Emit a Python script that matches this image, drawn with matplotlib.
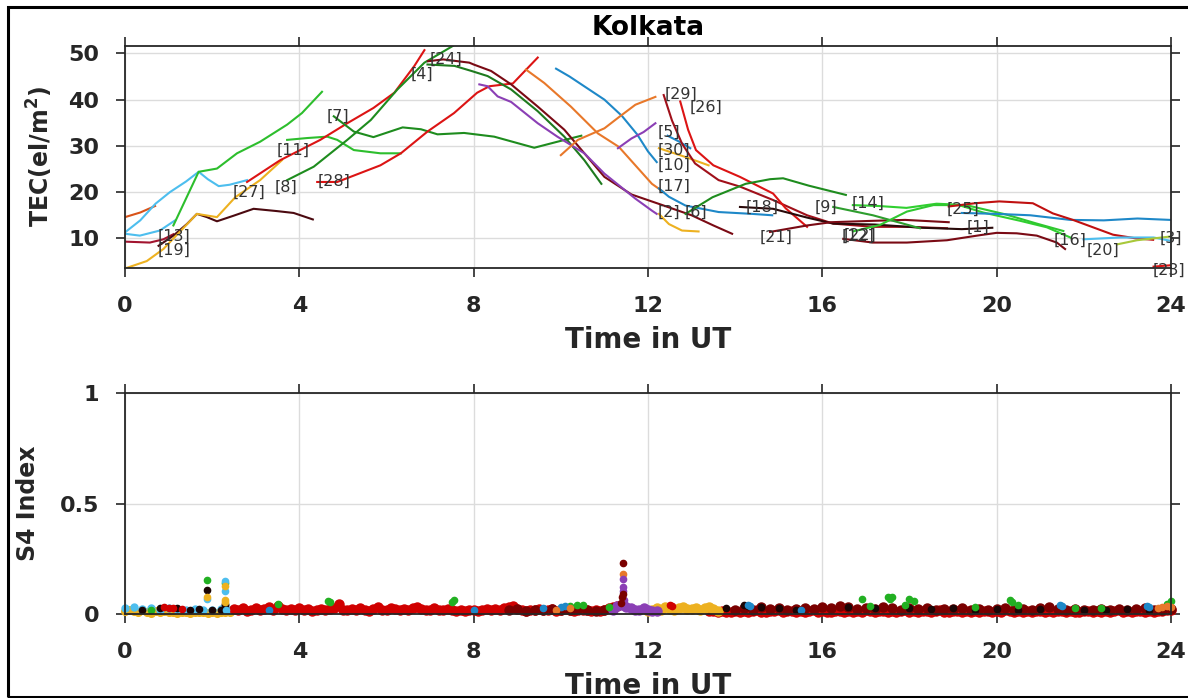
import numpy as np
import matplotlib
matplotlib.use('Agg')
import matplotlib.pyplot as plt
from matplotlib.patches import Rectangle

# ---------------- TEC tracks (time UT [h], TEC [el/m^2]) ----------------
t_a = [0.0, 0.35, 0.69];                         v_a = [14.6, 15.6, 17.0]
t_b = [0.0, 0.35, 0.7, 1.03, 1.4, 1.69, 1.9, 2.15, 2.4, 2.8]
v_b = [11.3, 13.9, 17.5, 20.0, 22.3, 24.4, 22.8, 21.3, 21.6, 22.6]
t_c = [0.0, 0.34, 0.8, 1.15];                    v_c = [11.0, 10.6, 11.7, 13.9]
t_d = [0.0, 0.57, 0.88, 1.11];                   v_d = [9.3, 9.1, 9.8, 10.9]
t_e = [0.77, 1.11, 1.42, 1.65, 1.88, 2.11, 2.49, 2.95, 3.49, 3.87, 4.31]
v_e = [8.4, 10.6, 13.1, 15.3, 14.6, 13.7, 14.9, 16.4, 15.9, 15.5, 14.1]
t_f = [0.0, 0.5, 0.88, 1.65, 2.11, 2.53, 3.1, 3.6]
v_f = [3.5, 5.1, 7.7, 15.3, 14.6, 18.9, 22.6, 26.9]
t_g = [1.11, 1.69, 2.11, 2.57, 3.1, 3.72, 4.06, 4.52]
v_g = [12.8, 24.4, 25.1, 28.4, 30.9, 34.6, 37.1, 41.7]
t_h = [3.72, 4.18, 4.64, 4.87, 5.25, 5.86, 6.33]
v_h = [31.3, 31.7, 32.0, 31.3, 29.1, 28.4, 28.4]
t_i = [2.8, 3.56, 4.48, 5.1, 5.7, 6.18, 6.64, 6.87]
v_i = [22.2, 26.9, 31.3, 34.9, 38.2, 41.5, 47.3, 50.7]
t_j = [3.72, 4.33, 5.1, 5.64, 6.25, 6.87, 7.52]
v_j = [22.6, 25.5, 31.3, 35.6, 42.2, 48.0, 51.6]
t_k = [4.79, 5.25, 5.7, 6.37, 6.79, 7.17, 7.78, 8.47, 9.39, 9.92, 10.47]
v_k = [36.4, 33.1, 31.9, 34.0, 33.6, 32.5, 32.8, 32.0, 29.6, 30.9, 32.2]
t_l = [4.41, 4.87, 5.86, 6.33, 6.94, 7.55, 8.08, 8.36, 8.9, 9.47]
v_l = [22.2, 22.2, 25.8, 28.4, 33.1, 37.1, 41.5, 42.9, 43.5, 49.1]
t_m = [6.95, 7.3, 7.9, 8.0, 8.4, 8.86, 9.47, 10.08, 10.54, 11.0, 11.62, 12.3, 13.0, 13.5, 13.93]
v_m = [48.3, 48.7, 48.0, 47.6, 46.2, 43.3, 38.5, 33.5, 28.4, 23.3, 19.5, 17.3, 15.0, 12.8, 11.0]
t_n = [6.94, 7.56, 7.95, 8.32, 8.86, 9.47, 10.08, 10.54, 10.93]
v_n = [47.6, 47.3, 46.2, 45.1, 42.2, 37.5, 32.0, 26.9, 21.8]
t_o = [8.13, 8.32, 8.55, 8.86, 9.47, 9.92, 10.54, 11.0, 11.33, 11.71, 12.09, 12.2]
v_o = [43.3, 42.9, 40.7, 39.5, 34.9, 32.0, 28.4, 24.0, 21.5, 18.6, 16.0, 15.3]
t_p = [9.2, 9.62, 10.23, 10.85, 11.33, 11.71, 12.09, 12.36]
v_p = [46.5, 43.6, 38.5, 32.7, 29.8, 25.8, 21.8, 20.0]
t_q = [9.89, 10.2, 10.6, 11.0, 11.4, 11.75, 12.0, 12.2]
v_q = [46.7, 45.0, 42.5, 40.0, 36.5, 32.5, 28.8, 26.5]
t_r = [10.0, 10.39, 11.0, 11.33, 11.71, 12.17]
v_r = [28.0, 31.3, 33.8, 36.2, 38.9, 40.6]
t_s = [11.31, 11.62, 11.9, 12.17];               v_s = [29.5, 31.6, 33.0, 34.9]
t_u = [12.45, 12.7, 12.97];                      v_u = [32.2, 31.0, 29.5]
t_w = [12.25, 12.86, 13.39];                     v_w = [29.5, 27.6, 25.8]
t_x = [12.25, 12.48, 12.86, 13.62, 14.39, 14.85]
v_x = [20.8, 19.0, 17.1, 15.7, 15.3, 15.0]
t_y = [12.25, 12.48, 12.78, 13.16];              v_y = [15.3, 13.1, 11.7, 11.5]
t_p29 = [12.36, 12.55, 12.78, 13.08, 13.62, 14.11, 14.87, 15.65, 16.25, 17.16, 17.94, 18.86]
v_p29 = [41.0, 35.5, 30.5, 26.2, 22.6, 21.2, 18.3, 15.0, 13.2, 12.5, 12.5, 12.2]
t_p26 = [12.74, 12.92, 13.1, 13.5, 14.11, 14.87, 15.16, 15.65]
v_p26 = [39.6, 33.5, 29.1, 25.8, 23.3, 19.7, 16.5, 12.5]
t_p6 = [12.86, 13.48, 14.24, 14.8, 15.1, 15.69, 16.54]
v_p6 = [15.3, 18.9, 21.8, 22.8, 23.0, 21.4, 19.4]
t_p18 = [14.11, 14.87, 15.65, 16.25, 17.2, 18.3, 19.2, 19.9]
v_p18 = [16.8, 16.4, 14.5, 13.2, 13.0, 12.3, 12.0, 12.3]
t_p21 = [14.8, 15.65, 16.2, 17.16, 17.9, 18.9]
v_p21 = [11.4, 12.8, 13.5, 13.8, 14.0, 13.5]
t_p12 = [16.48, 17.16, 17.94, 18.86, 19.62, 20.0, 20.46, 20.92, 21.38, 21.57]
v_p12 = [9.9, 9.1, 9.1, 9.6, 10.7, 11.2, 11.1, 10.6, 9.1, 7.7]
t_p9 = [16.25, 17.16, 18.24];                    v_p9 = [16.8, 15.0, 12.2]
t_p14 = [16.7, 17.3, 17.93, 18.62, 19.1, 19.69, 20.54, 21.15, 21.69]
v_p14 = [17.2, 17.0, 16.6, 17.5, 17.3, 15.6, 13.8, 12.4, 10.2]
t_p1 = [16.7, 17.32, 17.94, 18.55, 19.3, 20.2, 20.92, 21.53]
v_p1 = [11.5, 12.9, 15.8, 17.2, 17.2, 15.2, 13.2, 11.6]
t_p25 = [19.2, 20.0, 20.77, 21.69, 22.46, 23.23, 23.98]
v_p25 = [15.5, 15.3, 15.0, 14.0, 13.9, 14.3, 14.0]
t_p24b = [18.9, 19.5, 20.06, 20.83, 21.29, 21.75, 22.67, 23.2, 23.59]
v_p24b = [16.9, 17.6, 18.0, 17.6, 15.4, 14.0, 10.8, 10.0, 9.7]
t_p16 = [21.99, 22.84, 23.6, 23.98];             v_p16 = [9.8, 10.2, 10.2, 9.5]
t_p20 = [22.76, 23.22, 23.98];                   v_p20 = [8.7, 9.6, 10.4]
t_p23 = [23.6, 24.0];                            v_p23 = [3.9, 4.2]

# PRN label texts and their positions (time, TEC)
lab_txt = ['[13]', '[19]', '[27]', '[8]', '[11]', '[7]', '[28]', '[4]', '[24]',
           '[29]', '[26]', '[5]', '[30]', '[10]', '[17]', '[2]', '[6]', '[18]',
           '[21]', '[9]', '[14]', '[12]', '[22]', '[25]', '[1]', '[16]', '[20]',
           '[3]', '[23]']
lab_t = [0.76, 0.76, 2.48, 3.44, 3.48, 4.63, 4.43, 6.55, 7.0,
         12.39, 12.95, 12.23, 12.23, 12.23, 12.23, 12.23, 12.85, 14.23,
         14.57, 15.83, 16.68, 16.45, 16.5, 18.85, 19.3, 21.3, 22.07,
         23.75, 23.57]
lab_v = [10.5, 7.5, 20.0, 21.1, 29.1, 36.3, 22.4, 45.4, 48.7,
         41.2, 38.3, 33.0, 29.1, 25.9, 21.3, 15.7, 15.7, 16.8,
         10.3, 16.8, 17.6, 10.5, 10.7, 16.4, 12.4, 9.6, 7.5,
         10.0, 3.2]

# ---------------- S4 index ----------------
yel1_t0, yel1_dt = 0.0, 0.1
s4_yel1 = [0.012, 0.02, 0.015, 0.008, 0.018, 0.01, 0.006, 0.012, 0.009, 0.014,
           0.007, 0.01, 0.005, 0.011, 0.008, 0.006, 0.01, 0.007, 0.009, 0.005,
           0.008, 0.006, 0.01, 0.007, 0.009]
cya1_t0, cya1_dt = 0.0, 0.2
s4_cya1 = [0.028, 0.03, 0.022, 0.025, 0.02, 0.026, 0.024, 0.018, 0.022, 0.02,
           0.019, 0.021, 0.02]
red1_t0, red1_dt = 2.5, 0.1
s4_red1 = [0.022, 0.018, 0.025, 0.015, 0.02, 0.028, 0.017, 0.022, 0.03, 0.019,
           0.035, 0.024, 0.018, 0.021, 0.016, 0.026, 0.02, 0.023, 0.015, 0.019,
           0.024, 0.017, 0.021, 0.028, 0.045, 0.019, 0.016, 0.022, 0.018, 0.025,
           0.02, 0.015, 0.023, 0.03, 0.019, 0.017, 0.026, 0.021, 0.018, 0.024,
           0.019, 0.028, 0.033, 0.022, 0.017, 0.02, 0.025, 0.018, 0.016, 0.021,
           0.019, 0.014, 0.018, 0.012, 0.016, 0.02, 0.013, 0.017, 0.022, 0.018,
           0.024, 0.02, 0.027, 0.032, 0.036, 0.021, 0.018, 0.015, 0.02, 0.017,
           0.023, 0.019, 0.016, 0.021, 0.014, 0.018, 0.022, 0.017, 0.013, 0.019,
           0.016, 0.02, 0.015, 0.018, 0.013, 0.017, 0.025, 0.03, 0.035]
red2_t0, red2_dt = 13.4, 0.1
s4_red2 = [0.012, 0.015, 0.01, 0.013, 0.008, 0.011, 0.014, 0.009, 0.012, 0.01,
           0.013, 0.016, 0.011, 0.009, 0.014, 0.012, 0.018, 0.01, 0.013, 0.015,
           0.011, 0.014, 0.009, 0.012, 0.016, 0.01, 0.013, 0.008, 0.011, 0.014,
           0.012, 0.009, 0.015, 0.011, 0.013, 0.01, 0.016, 0.012, 0.009, 0.013,
           0.015, 0.011, 0.014, 0.01, 0.012, 0.017, 0.011, 0.013, 0.009, 0.012,
           0.014, 0.01, 0.013, 0.016, 0.011, 0.009, 0.013, 0.015, 0.01, 0.012,
           0.011, 0.014, 0.009, 0.012, 0.015, 0.01, 0.013, 0.011, 0.016, 0.012,
           0.01, 0.013, 0.011, 0.014, 0.009, 0.012, 0.015, 0.011, 0.013, 0.01,
           0.012, 0.015, 0.01, 0.013, 0.011, 0.009, 0.014, 0.012, 0.01, 0.013,
           0.011, 0.014, 0.009, 0.012, 0.016, 0.01, 0.013, 0.011, 0.015, 0.012,
           0.01, 0.013, 0.011, 0.014, 0.012, 0.016, 0.018]
mar1_t0, mar1_dt = 8.8, 0.2
s4_mar1 = [0.018, 0.022, 0.015, 0.02, 0.017, 0.024, 0.019, 0.016, 0.021, 0.018,
           0.015, 0.02, 0.025]
mar2_t0, mar2_dt = 14.0, 0.2
s4_mar2 = [0.02, 0.025, 0.018, 0.03, 0.022, 0.026, 0.019, 0.024, 0.028, 0.021,
           0.032, 0.027, 0.035, 0.03, 0.024, 0.028, 0.022, 0.03, 0.025, 0.02,
           0.026, 0.022, 0.028, 0.019, 0.024, 0.021, 0.027, 0.02, 0.023, 0.018,
           0.022, 0.025, 0.019, 0.024, 0.02, 0.028, 0.032, 0.022, 0.019, 0.024,
           0.02, 0.017, 0.022, 0.019, 0.024, 0.018, 0.021, 0.026, 0.02, 0.018,
           0.022]
yel2_t0, yel2_dt = 12.0, 0.1
s4_yel2 = [0.012, 0.018, 0.025, 0.02, 0.03, 0.022, 0.018, 0.026, 0.03, 0.021,
           0.024, 0.028, 0.02, 0.025, 0.03, 0.022, 0.015]
pur_t0, pur_dt = 11.2, 0.1
s4_pur = [0.02, 0.035, 0.04, 0.03, 0.025, 0.02, 0.018, 0.025, 0.02, 0.015, 0.012]

blk_t = [0.4, 0.8, 1.2, 1.5, 1.7, 1.87, 2.0, 2.2, 2.3, 2.3, 13.8, 14.2, 14.3, 14.6,
         15.0, 15.4, 16.6, 17.2, 18.0, 18.5, 19.0, 19.5, 20.0, 20.5, 21.0, 22.0,
         22.5, 23.0, 23.5]
blk_s4 = [0.02, 0.025, 0.028, 0.02, 0.022, 0.109, 0.018, 0.02, 0.045, 0.04, 0.025,
          0.04, 0.035, 0.03, 0.028, 0.02, 0.03, 0.025, 0.028, 0.022, 0.026, 0.02,
          0.024, 0.018, 0.022, 0.02, 0.018, 0.021, 0.019]
grn_t = [0.6, 1.87, 2.3, 3.5, 4.65, 4.7, 7.5, 7.55, 10.2, 10.36, 10.5, 11.1, 16.9,
         17.1, 17.5, 17.55, 17.6, 17.9, 18.0, 18.1, 19.5, 20.3, 20.35, 20.5, 21.8,
         22.4, 23.9, 24.0]
grn_s4 = [0.02, 0.152, 0.142, 0.045, 0.06, 0.055, 0.055, 0.062, 0.035, 0.04, 0.042,
          0.03, 0.068, 0.035, 0.078, 0.07, 0.075, 0.04, 0.07, 0.06, 0.03, 0.065,
          0.055, 0.04, 0.028, 0.025, 0.045, 0.06]
cya_t = [1.87, 2.3, 2.3, 2.32]
cya_s4 = [0.068, 0.15, 0.104, 0.02]
yel_t = [1.87, 2.3, 2.3, 2.3]
yel_s4 = [0.078, 0.128, 0.062, 0.055]
blu_t = [3.3, 8.0, 9.6, 10.0, 10.1, 14.3, 14.35, 15.5, 21.45, 21.5, 23.45, 23.5]
blu_s4 = [0.02, 0.02, 0.025, 0.03, 0.035, 0.04, 0.035, 0.02, 0.04, 0.035, 0.035, 0.03]
org_t = [9.9, 10.2, 11.42, 23.7, 23.8, 23.9, 24.0]
org_s4 = [0.02, 0.025, 0.18, 0.025, 0.03, 0.035, 0.03]
pur_sp_t = [11.42, 11.42, 11.42, 11.44, 11.45]
pur_sp_s4 = [0.16, 0.124, 0.106, 0.064, 0.05]
mar_sp_t = [11.42, 11.42, 11.4, 11.38]
mar_sp_s4 = [0.23, 0.09, 0.075, 0.05]
red_sp_t = [0.9, 1.0, 1.1, 1.3, 12.5, 12.55]
red_sp_s4 = [0.03, 0.028, 0.025, 0.022, 0.04, 0.035]

xticks = [0, 4, 8, 12, 16, 20, 24]

# ---------------- colours ----------------
C_BLUE = '#1E88C8'; C_ORANGE = '#E8782A'; C_YEL = '#EDB120'; C_PUR = '#8B3FB5'
C_LBLUE = '#4DBEEE'; C_CRIM = '#A2142F'; C_RED = '#DC1414'; C_DRED = '#A0101A'
C_MAR = '#7A0A14'; C_BRN = '#4B0A10'; C_BGRN = '#2DBE2D'; C_DGRN = '#1E8C1E'
C_BLK = '#2A0A0A'; C_YG = '#A8C83A'; C_OR2 = '#D95319'

tracks = [
    (t_a, v_a, C_OR2), (t_b, v_b, C_LBLUE), (t_c, v_c, C_LBLUE), (t_d, v_d, C_CRIM),
    (t_e, v_e, C_BRN), (t_f, v_f, C_YEL), (t_g, v_g, C_BGRN), (t_h, v_h, C_BGRN),
    (t_i, v_i, C_RED), (t_j, v_j, C_DGRN), (t_k, v_k, C_DGRN), (t_l, v_l, C_RED),
    (t_m, v_m, C_MAR), (t_n, v_n, '#1E7A1E'), (t_o, v_o, C_PUR), (t_p, v_p, C_ORANGE),
    (t_q, v_q, C_BLUE), (t_r, v_r, C_ORANGE), (t_s, v_s, C_PUR), (t_u, v_u, C_BLUE),
    (t_w, v_w, C_YEL), (t_x, v_x, C_BLUE), (t_y, v_y, C_YEL), (t_p29, v_p29, C_DRED),
    (t_p26, v_p26, C_RED), (t_p6, v_p6, C_DGRN), (t_p18, v_p18, C_BLK),
    (t_p21, v_p21, C_MAR), (t_p12, v_p12, C_MAR), (t_p9, v_p9, '#2E9E2E'),
    (t_p14, v_p14, '#30D030'), (t_p1, v_p1, '#30C830'), (t_p25, v_p25, C_BLUE),
    (t_p24b, v_p24b, '#C01010'), (t_p16, v_p16, C_LBLUE), (t_p20, v_p20, C_YG),
    (t_p23, v_p23, C_RED),
]

plt.rcParams['font.family'] = ['DejaVu Sans']
plt.rcParams['mathtext.fontset'] = 'dejavusans'

W, H = 1188, 698
fig = plt.figure(figsize=(W / 100, H / 100), dpi=100)
ax1 = fig.add_axes([125 / W, 1 - 268 / H, 1046 / W, 222 / H])
ax2 = fig.add_axes([125 / W, 1 - 614 / H, 1046 / W, 221 / H])

TXT = '#262626'


def style(ax):
    ax.set_xlim(0, 24)
    ax.set_xticks(xticks)
    ax.grid(True, color='#dcdcdc', lw=1.0)
    ax.set_axisbelow(True)
    ax.tick_params(direction='out', length=6.5, width=1.2, top=True, right=True,
                   labelsize=16, colors=TXT)
    ax.tick_params(axis='x', pad=14)
    ax.tick_params(axis='y', pad=12)
    for lab in ax.get_xticklabels() + ax.get_yticklabels():
        lab.set_fontweight('bold')
    for s in ax.spines.values():
        s.set_linewidth(1.3)
        s.set_color(TXT)
    ax.set_xlabel('Time in UT', fontsize=20, fontweight='bold', color=TXT, labelpad=7)


# ---- top panel ----
for tt, vv, cc in tracks:
    ax1.plot(tt, vv, color=cc, lw=1.5)
ax1.set_ylim(3.6, 51.6)
ax1.set_yticks([10, 20, 30, 40, 50])
style(ax1)
ax1.set_ylabel(r'TEC(el/m$^\mathbf{2}$)', fontsize=17, fontweight='bold', color=TXT)
ax1.yaxis.set_label_coords(-0.067, 0.5)
for s, tt, vv in zip(lab_txt, lab_t, lab_v):
    ax1.text(tt, vv, s, fontsize=11.5, color='#333333', ha='left', va='center',
             clip_on=False)

fig.text(648 / W, 1 - 35 / H, 'Kolkata', ha='center', va='baseline',
         fontsize=19, fontweight='bold', color='black')

# ---- bottom panel ----
def band(t0, dt, vals, color, ms=6.5):
    tt = t0 + dt * np.arange(len(vals))
    ax2.plot(tt, vals, 'o', color=color, ms=ms, mec=color, clip_on=False)

band(yel1_t0, yel1_dt, s4_yel1, C_YEL, ms=5.5)
band(cya1_t0, cya1_dt, s4_cya1, C_LBLUE, ms=5)
band(red1_t0, red1_dt, s4_red1, '#D00000')
band(mar1_t0, mar1_dt, s4_mar1, '#7A0000')
band(red2_t0, red2_dt, s4_red2, '#D00000')
band(mar2_t0, mar2_dt, s4_mar2, '#7A0000')
band(yel2_t0, yel2_dt, s4_yel2, C_YEL)
band(pur_t0, pur_dt, s4_pur, C_PUR)

for tt, ss, cc in [(blk_t, blk_s4, '#1a0505'), (grn_t, grn_s4, '#22B022'),
                   (cya_t, cya_s4, C_LBLUE), (yel_t, yel_s4, C_YEL),
                   (blu_t, blu_s4, C_BLUE), (org_t, org_s4, C_ORANGE),
                   (pur_sp_t, pur_sp_s4, C_PUR), (mar_sp_t, mar_sp_s4, '#7A0000'),
                   (red_sp_t, red_sp_s4, '#D00000')]:
    ax2.plot(tt, ss, 'o', color=cc, ms=4.5, mec=cc, clip_on=False)

ax2.set_ylim(0, 1)
ax2.set_yticks([0, 0.5, 1])
ax2.set_yticklabels(['0', '0.5', '1'])
style(ax2)
ax2.set_ylabel('S4 Index', fontsize=17, fontweight='bold', color=TXT)
ax2.yaxis.set_label_coords(-0.081, 0.5)

# outer frame
fig.patches.append(Rectangle((8 / W, 1 / H), (W + 20) / W, (H - 8) / H,
                             transform=fig.transFigure, fill=False,
                             edgecolor='black', lw=2.2, zorder=10))

fig.savefig('out.png', dpi=100)
